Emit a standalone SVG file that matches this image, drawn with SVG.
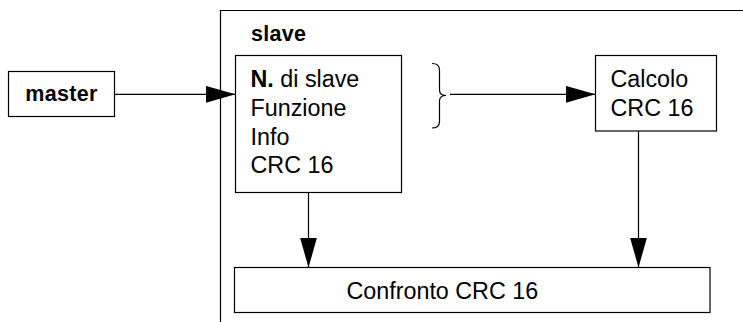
<svg xmlns="http://www.w3.org/2000/svg" width="743" height="322" viewBox="0 0 743 322">
<style>
  .box{fill:#fff;stroke:#000;stroke-width:1.2}
  .ln{fill:none;stroke:#000;stroke-width:1.2}
  .t{font-family:"Liberation Sans",Arial,sans-serif;font-size:23.3px;fill:#000}
  .b{font-family:"Liberation Sans",Arial,sans-serif;font-size:21.5px;font-weight:bold;letter-spacing:0.3px;fill:#000}
</style>
<defs>
  <marker id="ah" markerUnits="userSpaceOnUse" markerWidth="30" markerHeight="17" refX="30" refY="8.5" orient="auto" viewBox="0 0 30 17">
    <path d="M0,0 L30,8.5 L0,17 z" fill="#000"/>
  </marker>
</defs>
<g id="slave-container">
  <path class="ln" d="M220.5,322 L220.5,10.5 L743,10.5"/>
  <text class="b" x="251" y="40.5">slave</text>
</g>
<g id="master">
  <rect class="box" x="8.5" y="71.5" width="106" height="45"/>
  <text class="b" x="61.5" y="101" text-anchor="middle">master</text>
</g>
<g id="frame">
  <rect class="box" x="235.5" y="55.5" width="166" height="137"/>
  <text class="t" x="250.5" y="87.3"><tspan font-weight="bold">N.</tspan> di slave</text>
  <text class="t" x="250.5" y="116">Funzione</text>
  <text class="t" x="250.5" y="144.7">Info</text>
  <text class="t" x="250.5" y="173.4">CRC 16</text>
</g>
<g id="brace">
  <path class="ln" d="M432,63.5 Q439.5,63.5 439.5,70 L439.5,90 Q439.5,95.5 446,95.5 Q439.5,95.5 439.5,101 L439.5,121.5 Q439.5,128 432,128"/>
</g>
<g id="calcolo">
  <rect class="box" x="595.5" y="55.5" width="121" height="75.5"/>
  <text class="t" x="610.5" y="87.3">Calcolo</text>
  <text class="t" x="610.5" y="115.5">CRC 16</text>
</g>
<g id="confronto">
  <rect class="box" x="234.5" y="267.5" width="475.5" height="45"/>
  <text class="t" x="346.5" y="299">Confronto CRC 16</text>
</g>
<g id="connectors">
  <line class="ln" x1="114.5" y1="94.3" x2="235.5" y2="94.3" marker-end="url(#ah)"/>
  <line class="ln" x1="450" y1="94.3" x2="595.5" y2="94.3" marker-end="url(#ah)"/>
  <line class="ln" x1="308.5" y1="192.5" x2="308.5" y2="267.5" marker-end="url(#ah)"/>
  <line class="ln" x1="638.5" y1="131" x2="638.5" y2="267.5" marker-end="url(#ah)"/>
</g>
</svg>
